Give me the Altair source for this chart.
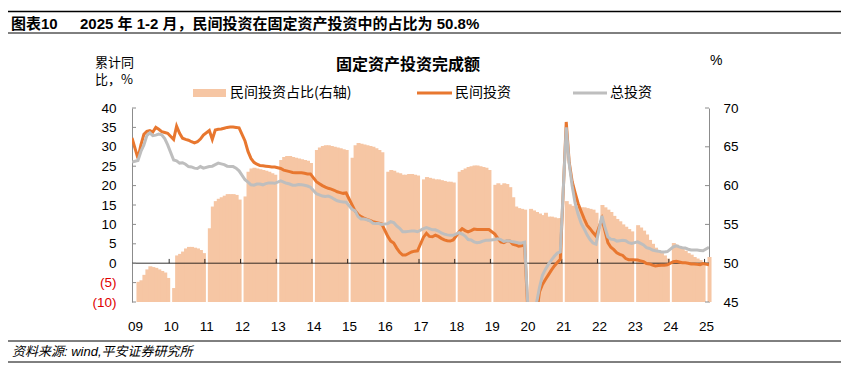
import json
import pandas as pd
import altair as alt

# ---------------- data ----------------
PERIODS = (["2008-12"]
           + [f"{y}-{m:02d}" for y in range(2009, 2025) for m in range(2, 13)]
           + ["2025-02"])

YEAR_LABELS = ["09", "10", "11", "12", "13", "14", "15", "16", "17",
               "18", "19", "20", "21", "22", "23", "24", "25"]

# 民间投资占比(右轴), %  (Feb..Dec each year)
SHARE = [None,
    47.6, 47.8, 48.5, 49.2, 49.6, 49.5, 49.4, 49.2, 49.0, 48.8, 48.1,
    46.8, 51.0, 51.2, 51.5, 51.9, 52.1, 52.1, 52.0, 51.9, 51.7, 51.3,
    54.5, 57.3, 58.0, 58.3, 58.5, 58.7, 58.9, 58.9, 58.9, 58.8, 58.2,
    58.6, 61.8, 62.2, 62.3, 62.2, 62.1, 62.0, 61.9, 61.8, 61.6, 61.4,
    63.3, 63.7, 63.8, 63.8, 63.7, 63.6, 63.5, 63.4, 63.3, 63.2, 62.9,
    64.6, 64.9, 65.1, 65.2, 65.2, 65.1, 65.0, 64.9, 64.8, 64.7, 64.6,
    63.6, 65.2, 65.5, 65.4, 65.3, 65.2, 65.1, 65.0, 64.8, 64.6, 64.3,
    61.8, 62.0, 61.9, 61.7, 61.6, 61.4, 61.4, 61.5, 61.5, 61.4, 61.3,
    60.8, 61.1, 61.0, 60.9, 60.8, 60.8, 60.7, 60.6, 60.5, 60.5, 60.4,
    61.8, 62.0, 62.2, 62.4, 62.5, 62.6, 62.6, 62.5, 62.4, 62.3, 62.0,
    60.1, 60.3, 60.1, 60.3, 60.2, 59.8, 58.5, 57.3, 57.1, 57.0, 56.9,
    57.0, 56.8, 56.6, 56.4, 56.2, 56.5, 56.0, 56.0, 55.9, 55.8, 55.8,
    58.0, 57.6, 57.4, 57.3, 57.3, 57.2, 57.2, 57.1, 57.0, 56.9, 56.5,
    57.5, 57.2, 56.9, 56.6, 56.1, 55.7, 55.4, 55.0, 54.7, 54.4, 54.1,
    54.9, 54.6, 54.2, 53.7, 53.0, 52.5, 52.0, 51.7, 51.3, 51.0, 50.6,
    52.6, 52.4, 52.1, 51.9, 51.6, 51.3, 51.1, 50.8, 50.6, 50.4, 50.1,
    50.8]

# 民间投资 累计同比, %
PRIVATE = [32.3,
    27.0, 30.5, 33.2, 34.0, 34.2, 33.8, 35.0, 34.5, 33.9, 33.7, 33.5,
    31.9, 35.3, 33.5, 32.2, 31.9, 31.7, 31.3, 31.0, 31.3, 32.0, 33.0,
    34.2, 31.9, 34.3, 34.5, 34.6, 34.8, 35.0, 35.1, 35.1, 35.0, 34.9,
    31.5, 28.8, 27.0, 26.0, 25.5, 25.2, 25.1, 25.0, 24.9, 24.8, 24.8,
    24.4, 24.0, 23.8, 23.6, 23.4, 23.3, 23.3, 23.3, 23.2, 23.0, 23.0,
    21.0, 20.5, 20.0, 19.6, 19.3, 19.1, 18.8, 18.4, 18.2, 18.0, 18.1,
    15.0, 13.5, 12.6, 12.0, 11.6, 11.3, 11.0, 10.7, 10.5, 10.3, 10.1,
    6.9, 5.7, 5.2, 3.9, 2.8, 2.1, 2.1, 2.5, 2.9, 3.1, 3.2,
    6.7, 7.7, 6.9, 6.8, 7.2, 6.9, 6.4, 6.0, 5.8, 5.7, 6.0,
    8.1, 8.9, 8.4, 8.1, 8.4, 8.8, 8.7, 8.7, 8.7, 8.7, 8.7,
    7.5, 6.4, 5.5, 5.3, 5.7, 5.7, 4.9, 4.7, 4.4, 4.5, 4.7,
    -26.4, -18.8, -13.3, -7.4, -5.5, -4.2, -3.0, -1.8, -0.7, 0.2, 1.0,
    36.4, 26.0, 21.0, 18.1, 15.4, 13.4, 11.5, 9.8, 8.9, 7.9, 7.0,
    11.4, 8.4, 5.3, 4.1, 3.5, 2.7, 2.3, 2.0, 1.2, 0.9, 0.9,
    0.8, 0.6, 0.4, -0.1, -0.2, -0.5, -0.7, -0.6, -0.5, -0.5, -0.4,
    0.4, 0.5, 0.3, 0.1, 0.1, 0.0, -0.2, -0.2, -0.3, -0.4, -0.1,
    -0.4]

# 总投资 累计同比, %
TOTAL = [26.1,
    26.5, 28.8, 30.5, 32.9, 33.6, 32.9, 33.0, 33.3, 33.1, 32.1, 30.5,
    26.6, 26.4, 25.8, 25.9, 25.5, 24.9, 24.8, 24.5, 24.4, 24.9, 24.5,
    24.9, 25.0, 25.4, 25.8, 25.6, 25.4, 25.0, 24.9, 24.9, 24.5, 23.8,
    21.5, 20.9, 20.2, 20.1, 20.4, 20.4, 20.2, 20.5, 20.7, 20.7, 20.6,
    21.2, 20.9, 20.6, 20.4, 20.1, 20.1, 20.3, 20.2, 20.1, 19.9, 19.6,
    17.9, 17.6, 17.3, 17.2, 17.3, 17.0, 16.5, 16.1, 15.9, 15.8, 15.7,
    13.9, 13.5, 12.0, 11.4, 11.4, 11.2, 10.9, 10.3, 10.2, 10.2, 10.0,
    10.2, 10.7, 10.5, 9.6, 9.0, 8.1, 8.1, 8.2, 8.3, 8.3, 8.1,
    8.9, 9.2, 8.9, 8.6, 8.6, 8.3, 7.8, 7.5, 7.3, 7.2, 7.2,
    7.9, 7.5, 7.0, 6.1, 6.0, 5.5, 5.3, 5.4, 5.7, 5.9, 5.9,
    6.1, 6.3, 6.1, 5.6, 5.8, 5.7, 5.5, 5.4, 5.2, 5.2, 5.4,
    -24.5, -16.1, -10.3, -6.3, -3.1, -1.6, -0.3, 0.8, 1.8, 2.6, 2.9,
    35.0, 25.6, 19.9, 15.4, 12.6, 10.3, 8.9, 7.3, 6.1, 5.2, 4.9,
    12.2, 9.3, 6.8, 6.2, 6.1, 5.7, 5.8, 5.9, 5.8, 5.3, 5.1,
    5.5, 5.1, 4.7, 4.0, 3.8, 3.4, 3.2, 3.1, 2.9, 2.9, 3.0,
    4.2, 4.5, 4.2, 4.0, 3.9, 3.6, 3.4, 3.4, 3.4, 3.3, 3.2,
    4.1]

LEFT_TICKS = [-10, -5, 0, 5, 10, 15, 20, 25, 30, 35, 40]
RIGHT_TICKS = [45, 50, 55, 60, 65, 70]

# ---------------- frame ----------------
def month_index(p):
    y, m = map(int, p.split("-"))
    return (y - 2008) * 12 + m - 12

df = pd.DataFrame({"period": PERIODS, "share": SHARE,
                   "private": PRIVATE, "total": TOTAL})
df["t"] = [month_index(p) for p in PERIODS]
df["t0"] = df["t"] - 0.5
df["t1"] = df["t"] + 0.85   # slight overlap to avoid anti-aliasing seams
df_bar = df.dropna(subset=["share"])

label_pos = [1 + 12 * k for k in range(len(YEAR_LABELS))]
year_ticks = pd.DataFrame({"xt": [12.5 + 12 * k for k in range(len(YEAR_LABELS) - 1)]})
lt_df = pd.DataFrame({"v": LEFT_TICKS})
rt_df = pd.DataFrame({"v": RIGHT_TICKS})
one = pd.DataFrame({"a": [0]})

W, H = 577, 194
FONT = "Liberation Sans, Noto Sans CJK SC, sans-serif"
CJK = "Noto Sans CJK SC, Liberation Sans, sans-serif"
BAR = "#F6C6A4"
ORANGE = "#E8772F"
GRAY = "#BEBEBE"
AXIS_GRAY = "#8C8C8C"

xscale = alt.Scale(domain=[0, 194], nice=False, zero=False)
xaxis = alt.Axis(values=label_pos, labelExpr=json.dumps(YEAR_LABELS) + "[floor((datum.value - 1) / 12)]",
                 domain=False, ticks=False, grid=False, title=None, labelPadding=17,
                 labelFont=FONT, labelFontSize=13.5, labelColor="#000")

lscale = alt.Scale(domain=[-10, 40], nice=False, zero=False)
laxis = alt.Axis(orient="left", values=LEFT_TICKS, grid=False, ticks=False, title=None,
                 domainColor=AXIS_GRAY, domainWidth=1, labelPadding=16,
                 labelFont=FONT, labelFontSize=13.5,
                 labelExpr="datum.value < 0 ? '(' + (-datum.value) + ')' : datum.value + '\u00a0'",
                 labelColor={"expr": "datum.value < 0 ? '#E00000' : '#000000'"})

rscale = alt.Scale(domain=[45, 70], nice=False, zero=False)
raxis = alt.Axis(orient="right", values=RIGHT_TICKS, grid=False, ticks=False, title=None,
                 domainColor=AXIS_GRAY, domainWidth=1, labelPadding=14,
                 labelFont=FONT, labelFontSize=13.5, labelColor="#000")

# ---------------- right-axis group (bars) ----------------
bars = alt.Chart(df_bar).mark_bar(color=BAR, strokeWidth=0).encode(
    x=alt.X("t0:Q", scale=xscale, axis=xaxis),
    x2="t1:Q",
    y=alt.Y("share:Q", scale=rscale, axis=raxis),
    y2=alt.datum(45),
)
rticks = alt.Chart(rt_df).mark_rule(color=AXIS_GRAY, strokeWidth=1).encode(
    y=alt.Y("v:Q", scale=rscale, axis=raxis),
    x=alt.value(W - 4), x2=alt.value(W),
)
right_group = alt.layer(bars, rticks)

# ---------------- left-axis group (lines) ----------------
zero = alt.Chart(one).mark_rule(color="#000", strokeWidth=0.8).encode(
    y=alt.YDatum(0, scale=lscale, axis=laxis),
    x=alt.value(0), x2=alt.value(W),
)
yticks = alt.Chart(year_ticks).mark_rule(color="#000", strokeWidth=0.8).encode(
    x=alt.X("xt:Q", scale=xscale, axis=xaxis),
    y=alt.YDatum(0, scale=lscale, axis=laxis),
    y2=alt.datum(1.1),
)
lticks = alt.Chart(lt_df).mark_rule(color=AXIS_GRAY, strokeWidth=1).encode(
    y=alt.Y("v:Q", scale=lscale, axis=laxis),
    x=alt.value(0), x2=alt.value(4),
)
line_priv = alt.Chart(df).mark_line(color=ORANGE, strokeWidth=3, clip=True).encode(
    x=alt.X("t:Q", scale=xscale, axis=xaxis),
    y=alt.Y("private:Q", scale=lscale, axis=laxis),
)
line_tot = alt.Chart(df).mark_line(color=GRAY, strokeWidth=3, clip=True).encode(
    x=alt.X("t:Q", scale=xscale, axis=xaxis),
    y=alt.Y("total:Q", scale=lscale, axis=laxis),
)
left_group = alt.layer(zero, yticks, lticks, line_priv, line_tot)

# ---------------- decorations (text, legend, rules) ----------------
def txt(s, x, y, size=13, weight="normal", align="left", font=CJK, style="normal", color="#000"):
    return alt.Chart(one).mark_text(text=s, align=align, baseline="middle", fontSize=size,
                                    fontWeight=weight, font=font, fontStyle=style, color=color).encode(
        x=alt.value(x), y=alt.value(y))

def hrule(x1, x2, y, w=1, color="#000"):
    return alt.Chart(one).mark_rule(color=color, strokeWidth=w).encode(
        x=alt.value(x1), x2=alt.value(x2), y=alt.value(y))

deco = [
    hrule(-124, 709, -96.5, 1.5),
    hrule(-124, 709, -75, 1),
    txt("图表10", -121, -84, 15, "bold", font=FONT),
    txt("2025 年 1-2 月，民间投资在固定资产投资中的占比为 50.8%", -52, -84, 15, "bold", font=FONT),
    txt("固定资产投资完成额", 276, -43, 16, "bold", align="center"),
    txt("累计同", -37, -45.5, 13),
    txt("比，%", -37, -28, 13),
    txt("%", 578, -47, 14, font=FONT),
    alt.Chart(one).mark_rect(color=BAR).encode(
        x=alt.value(61), x2=alt.value(94), y=alt.value(-19), y2=alt.value(-11)),
    txt("民间投资占比(右轴)", 98, -15, 14),
    alt.Chart(one).mark_rule(color=ORANGE, strokeWidth=3).encode(
        x=alt.value(285), x2=alt.value(320), y=alt.value(-15)),
    txt("民间投资", 323, -15, 14),
    alt.Chart(one).mark_rule(color=GRAY, strokeWidth=3).encode(
        x=alt.value(441), x2=alt.value(475), y=alt.value(-15)),
    txt("总投资", 478, -15, 14),
    hrule(-124, 709, 233, 1),
    txt("资料来源: wind,平安证券研究所", -120, 244, 13, style="italic", font=FONT),
    hrule(-124, 709, 254, 1),
]

chart = alt.layer(right_group, left_group, *deco).resolve_scale(y="independent").properties(
    width=W, height=H,
    padding={"left": 124, "top": 100, "right": 132, "bottom": 61},
    autosize=alt.AutoSizeParams(type="none"),
).configure_view(stroke=None)

chart.save("out.html", embed_options={"renderer": "svg", "actions": False})
